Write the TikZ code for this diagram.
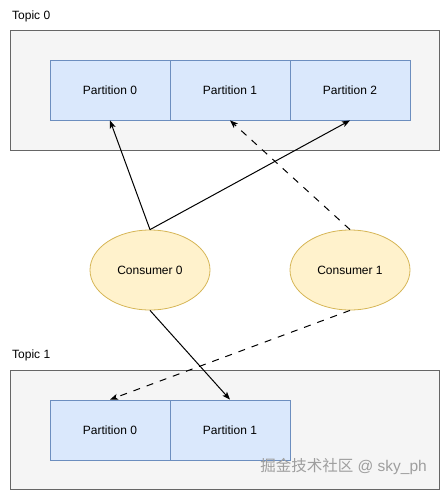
\documentclass[tikz,border=0pt]{standalone}
\usepackage{fontspec}
\setmainfont{Liberation Sans}
\newfontfamily\cjkfont{Noto Sans CJK SC}
\usetikzlibrary{shapes.geometric,arrows.meta}
\definecolor{topicfill}{HTML}{F5F5F5}
\definecolor{topicdraw}{HTML}{666666}
\definecolor{partfill}{HTML}{DAE8FC}
\definecolor{partdraw}{HTML}{6C8EBF}
\definecolor{consfill}{HTML}{FFF2CC}
\definecolor{consdraw}{HTML}{D6B656}
\tikzset{
  topicbox/.style={draw=topicdraw, fill=topicfill, line width=1pt},
  partbox/.style={draw=partdraw, fill=partfill, line width=0.8pt, minimum width=120pt, minimum height=60pt, inner sep=0pt, font=\fontsize{12}{14}\selectfont},
  consbox/.style={ellipse, draw=consdraw, fill=consfill, line width=0.8pt, minimum width=120pt, minimum height=80pt, inner sep=0pt, font=\fontsize{12}{14}\selectfont},
  lbl/.style={anchor=west, inner sep=0pt, font=\fontsize{12}{14}\selectfont},
  conn/.style={line width=1pt, -{Stealth[length=8pt,width=6pt,inset=2pt]}},
  dconn/.style={conn, dash pattern=on 7pt off 7pt}
}
\begin{document}
\begin{tikzpicture}[x=1pt,y=-1pt]
\useasboundingbox (0,0) rectangle (441,491);
% Topic 0
\node[lbl] (t0label) at (12,16) {Topic 0};
\draw[topicbox] (10,30) rectangle (439,150);
\node[partbox] (a0) at (110,90) {Partition 0};
\node[partbox] (a1) at (230,90) {Partition 1};
\node[partbox] (a2) at (350,90) {Partition 2};
% Consumers
\node[consbox] (c0) at (150,270) {Consumer 0};
\node[consbox] (c1) at (350,270) {Consumer 1};
% Topic 1
\node[lbl] (t1label) at (12,355) {Topic 1};
\draw[topicbox] (10,370) rectangle (439,489);
\node[partbox] (b0) at (110,430) {Partition 0};
\node[partbox] (b1) at (230,430) {Partition 1};
% watermark
\node[anchor=east, inner sep=0pt, text=black!38, font=\fontsize{15.5}{18}\selectfont] (wm) at (427,467) {{\cjkfont 掘金技术社区} @ sky\_ph};
% connectors
\draw[conn] (c0.north) -- (a0.south);
\draw[conn] (c0.north) -- (a2.south);
\draw[dconn] (c1.north) -- (a1.south);
\draw[conn] (c0.south) -- (b1.north);
\draw[dconn] (c1.south) -- (b0.north);
\end{tikzpicture}
\end{document}
